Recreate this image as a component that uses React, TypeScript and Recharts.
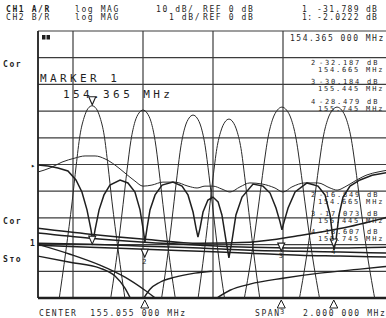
import React from 'react';
import { LineChart, Line, XAxis, YAxis, CartesianGrid, ReferenceDot, ReferenceLine } from 'recharts';

// Sweep: CENTER 155.055 MHz, SPAN 2 MHz
const START_MHZ = 154.055;
const STOP_MHZ = 156.055;
const freqGrid = [154.055, 154.255, 154.455, 154.655, 154.855, 155.055, 155.255, 155.455, 155.655, 155.855, 156.055];
const ch1Grid = [-100, -90, -80, -70, -60, -50, -40, -30, -20, -10, 0];

// CH1 (A/R, 10 dB/div) channel passbands
const lobe1F = [154.170, 154.215, 154.250, 154.273, 154.295, 154.318, 154.341, 154.364, 154.387, 154.410, 154.433, 154.455, 154.478, 154.513, 154.558];
const lobe1Db = [-103, -82, -64, -50.5, -39, -32.5, -29, -28, -29, -32.5, -39, -50.5, -64, -82, -103];
const lobe2F = [154.461, 154.506, 154.541, 154.564, 154.586, 154.609, 154.632, 154.655, 154.678, 154.701, 154.724, 154.746, 154.769, 154.804, 154.849];
const lobe2Db = [-104, -84, -65, -52, -41, -34, -30.7, -29.6, -30.7, -34, -41, -52, -65, -84, -104];
const lobe3F = [154.747, 154.792, 154.827, 154.850, 154.872, 154.895, 154.918, 154.941, 154.964, 154.987, 155.010, 155.032, 155.055, 155.090, 155.135];
const lobe3Db = [-106, -86, -67, -54, -43, -36, -32.6, -31.5, -32.6, -36, -43, -54, -67, -86, -106];
const lobe4F = [154.952, 154.997, 155.032, 155.055, 155.077, 155.100, 155.123, 155.146, 155.169, 155.192, 155.215, 155.237, 155.260, 155.295, 155.340];
const lobe4Db = [-108, -87, -68, -55, -44, -37.5, -34.1, -33, -34.1, -37.5, -44, -55, -68, -87, -108];
const lobe5F = [155.226, 155.278, 155.318, 155.344, 155.370, 155.396, 155.423, 155.449, 155.475, 155.502, 155.528, 155.554, 155.580, 155.620, 155.672];
const lobe5Db = [-103, -83, -64, -51, -39.7, -33, -29.6, -28.5, -29.6, -33, -39.7, -51, -64, -83, -103];
const lobe6F = [155.541, 155.593, 155.633, 155.659, 155.685, 155.711, 155.738, 155.764, 155.790, 155.817, 155.843, 155.869, 155.895, 155.935, 155.987];
const lobe6Db = [-103, -83, -64, -51, -39.7, -33, -29.6, -28.5, -29.6, -33, -39.7, -51, -64, -83, -103];

// CH1 scalloped trace with nulls
const scallopF = [154.055, 154.112, 154.169, 154.226, 154.272, 154.306, 154.335, 154.358, 154.369, 154.381, 154.404, 154.432, 154.466, 154.524, 154.569, 154.609, 154.638, 154.655, 154.666, 154.678, 154.695, 154.724, 154.764, 154.826, 154.878, 154.912, 154.941, 154.958, 154.969, 154.981, 154.998, 155.026, 155.055, 155.084, 155.106, 155.129, 155.146, 155.164, 155.186, 155.221, 155.284, 155.341, 155.381, 155.415, 155.438, 155.449, 155.461, 155.484, 155.524, 155.592, 155.655, 155.695, 155.724, 155.741, 155.746, 155.758, 155.775, 155.798, 155.838, 155.895, 155.964, 156.055];
const scallopDb = [-50.2, -50.6, -51.3, -52.4, -55.8, -60.3, -67.0, -74.5, -79.0, -74.5, -67.0, -61.4, -57.7, -55.8, -56.9, -60.3, -67.0, -73.8, -79.0, -73.8, -67.0, -61.4, -57.7, -56.6, -58.1, -61.4, -67.8, -73.8, -77.2, -73.8, -67.8, -63.3, -62.2, -64.0, -68.9, -78.3, -85.0, -78.3, -68.9, -62.2, -57.3, -58.1, -60.7, -66.3, -71.5, -74.5, -71.5, -66.3, -60.3, -56.9, -58.1, -61.4, -68.9, -78.3, -82.0, -78.3, -68.9, -62.2, -58.1, -55.8, -54.0, -53.0];

// CH1 thin envelope trace
const envF = [154.055, 154.124, 154.192, 154.266, 154.324, 154.381, 154.438, 154.495, 154.552, 154.609, 154.655, 154.706, 154.769, 154.838, 154.912, 154.964, 155.009, 155.055, 155.106, 155.152, 155.209, 155.266, 155.335, 155.409, 155.455, 155.506, 155.581, 155.655, 155.724, 155.764, 155.809, 155.866, 155.935, 155.998, 156.055];
const envDb = [-52.8, -51.3, -49.1, -47.6, -46.8, -46.8, -47.9, -50.2, -53.2, -56.2, -58.1, -57.7, -56.6, -56.6, -58.1, -58.8, -58.1, -58.1, -59.2, -60.3, -58.4, -56.9, -57.3, -58.8, -60.3, -58.4, -56.9, -56.9, -58.8, -59.6, -58.4, -56.2, -53.9, -52.8, -52.1];

// CH2 (B/R, 1 dB/div) insertion-loss traces
const lossF = [154.055, 154.352, 154.666, 154.981, 155.266, 155.552, 155.781, 156.055];
const loss1Db = [-1.39, -1.61, -1.80, -1.95, -1.91, -1.66, -1.40, -0.97];
const loss2Db = [-1.57, -1.76, -1.91, -2.02, -2.10, -2.13, -2.13, -2.10];
const loss3Db = [-1.95, -1.99, -2.06, -2.13, -2.21, -2.25, -2.28, -2.32];
const loss4Db = [-2.02, -2.10, -2.17, -2.25, -2.32, -2.40, -2.43, -2.47];
const skirt1F = [154.055, 154.238, 154.409, 154.495, 154.552, 154.586];
const skirt1Db = [-2.43, -2.66, -2.88, -3.18, -3.63, -4.05];
const skirt2F = [154.055, 154.238, 154.409, 154.552, 154.666, 154.735];
const skirt2Db = [-1.99, -2.36, -2.77, -3.22, -3.71, -4.05];
const skirt3F = [154.655, 154.695, 154.752, 154.838, 154.952, 155.049];
const skirt3Db = [-4.05, -3.67, -3.41, -3.22, -3.07, -3.00];
const skirt4F = [155.066, 155.152, 155.266, 155.455, 155.666, 155.895, 156.055];
const skirt4Db = [-4.05, -3.71, -3.48, -3.26, -3.07, -2.92, -2.81];

// Markers
const markerF = [154.365, 154.665, 155.445, 155.745];
const markerFText = ['154.365 000 MHz', '154.665 MHz', '155.445 MHz', '155.745 MHz'];
const ch1MarkerText = ['-31.789 dB', '-32.187 dB', '-30.184 dB', '-28.479 dB'];
const ch2MarkerText = ['-2.0222 dB', '-16.849 dB', '-17.073 dB', '-18.607 dB'];
const ch2MarkerDb = [-2.02, -2.51, -2.28, -2.13];
const lobe1PeakDb = -28;

const pts = (fs: number[], vs: number[]) => fs.map((f, i) => ({ f, v: vs[i] }));

const INK = '#1f1f1f';
const FONT = "'DejaVu Sans Mono', monospace";

const T = ({ x, y, children, size = 8, ls = 1.6, bold = false }: any) => (
  <text x={x} y={y} fontSize={size} letterSpacing={ls} fontWeight={bold ? 700 : 400} fill={INK} fontFamily={FONT} style={{ whiteSpace: 'pre' }}>
    {children}
  </text>
);

const downTri = (label?: string) => (p: any) => (
  <g>
    <path d={`M${p.cx - 3.5},${p.cy - 9} L${p.cx + 3.5},${p.cy - 9} L${p.cx},${p.cy - 1} Z`} fill="#fff" stroke={INK} strokeWidth={1.1} />
    {label ? (
      <text x={p.cx - 2.5} y={p.cy + 6} fontSize={7} fill={INK} fontFamily={FONT}>{label}</text>
    ) : null}
  </g>
);

const upTri = (p: any) => (
  <path d={`M${p.cx},${p.cy + 2} L${p.cx + 4},${p.cy + 10} L${p.cx - 4},${p.cy + 10} Z`} fill="#fff" stroke={INK} strokeWidth={1} />
);

const upperRows = [[65, 71.5], [84, 90.5], [104, 110.5]];
const lowerRows = [[197, 203.5], [216, 222.5], [234, 240.5]];

export default function App() {
  const lobes = [
    pts(lobe1F, lobe1Db), pts(lobe2F, lobe2Db), pts(lobe3F, lobe3Db),
    pts(lobe4F, lobe4Db), pts(lobe5F, lobe5Db), pts(lobe6F, lobe6Db),
  ];
  const losses = [loss1Db, loss2Db, loss3Db, loss4Db].map((d) => pts(lossF, d));
  const skirts = [pts(skirt1F, skirt1Db), pts(skirt2F, skirt2Db), pts(skirt3F, skirt3Db), pts(skirt4F, skirt4Db)];

  return (
    <div style={{ position: 'absolute', left: 0, top: 0, width: 386, height: 318, overflow: 'hidden', background: '#fff' }}>
      <LineChart width={400} height={318} margin={{ top: 31, right: 12, bottom: 20, left: 38 }}>
        <XAxis dataKey="f" type="number" domain={[START_MHZ, STOP_MHZ]} ticks={freqGrid} allowDataOverflow hide />
        <YAxis yAxisId="ch1" type="number" domain={[-100, 0]} ticks={ch1Grid} allowDataOverflow hide />
        <YAxis yAxisId="ch2" type="number" domain={[-4, 6]} allowDataOverflow hide />
        <CartesianGrid yAxisId="ch1" stroke="#3c3c3c" strokeWidth={1.2} />
        <ReferenceLine yAxisId="ch1" y={-100} stroke={INK} strokeWidth={2.4} />
        <ReferenceLine x={START_MHZ} yAxisId="ch1" stroke={INK} strokeWidth={1.6} />
        {lobes.map((d, i) => (
          <Line key={'lobe' + i} data={d} dataKey="v" yAxisId="ch1" type="monotone" stroke="#2a2a2a" strokeWidth={1} dot={false} isAnimationActive={false} />
        ))}
        <Line data={pts(envF, envDb)} dataKey="v" yAxisId="ch1" type="monotone" stroke="#2a2a2a" strokeWidth={1} dot={false} isAnimationActive={false} />
        <Line data={pts(scallopF, scallopDb)} dataKey="v" yAxisId="ch1" type="linear" stroke={INK} strokeWidth={1.5} dot={false} isAnimationActive={false} />
        {losses.map((d, i) => (
          <Line key={'loss' + i} data={d} dataKey="v" yAxisId="ch2" type="monotone" stroke={INK} strokeWidth={1.5} dot={false} isAnimationActive={false} />
        ))}
        {skirts.map((d, i) => (
          <Line key={'skirt' + i} data={d} dataKey="v" yAxisId="ch2" type="monotone" stroke={INK} strokeWidth={1.4} dot={false} isAnimationActive={false} />
        ))}
        <ReferenceDot x={markerF[0]} y={lobe1PeakDb} yAxisId="ch1" ifOverflow="visible" shape={downTri()} />
        {markerF.map((f, i) => (
          <ReferenceDot key={'m2' + i} x={f} y={ch2MarkerDb[i]} yAxisId="ch2" ifOverflow="visible" shape={downTri(i === 0 ? undefined : String(i + 1))} />
        ))}
        {markerF.slice(1).map((f, i) => (
          <ReferenceDot key={'mb' + i} x={f} y={-4} yAxisId="ch2" ifOverflow="visible" shape={upTri} />
        ))}
      </LineChart>
      <svg width={386} height={318} style={{ position: 'absolute', left: 0, top: 0, pointerEvents: 'none' }}>
        <T x={6} y={12} bold>CH1 A/R</T>
        <T x={75} y={12}>log MAG</T>
        <T x={156} y={12}>10 dB/</T>
        <T x={203} y={12}>REF 0 dB</T>
        <T x={302} y={12}>1</T>
        <T x={317} y={12} ls={1.3}>{ch1MarkerText[0]}</T>
        <T x={6} y={20}>CH2 B/R</T>
        <T x={75} y={20}>log MAG</T>
        <T x={169} y={20}>1 dB/</T>
        <T x={203} y={20}>REF 0 dB</T>
        <T x={302} y={20} ls={0.5}>1:</T>
        <T x={317} y={20} ls={1.3}>{ch2MarkerText[0]}</T>

        <rect x={42} y={35} width={3.5} height={4.5} fill={INK} />
        <rect x={46.5} y={35} width={3.5} height={4.5} fill={INK} />
        <T x={290} y={41} ls={1.5}>{markerFText[0]}</T>

        <T x={40} y={82} size={11} ls={3.4}>MARKER 1</T>
        <T x={63} y={98} size={11} ls={3.4}>154.365 MHz</T>

        {[1, 2, 3].map((i) => (
          <g key={'ur' + i}>
            <T x={311} y={upperRows[i - 1][0]} size={7} ls={1.8}>{String(i + 1)}</T>
            <T x={319} y={upperRows[i - 1][0]} size={7} ls={1.8}>{ch1MarkerText[i]}</T>
            <T x={318} y={upperRows[i - 1][1]} size={7} ls={1.8}>{markerFText[i]}</T>
          </g>
        ))}
        {[1, 2, 3].map((i) => (
          <g key={'lr' + i}>
            <T x={311} y={lowerRows[i - 1][0]} size={7} ls={1.8}>{String(i + 1)}</T>
            <T x={319} y={lowerRows[i - 1][0]} size={7} ls={1.8}>{ch2MarkerText[i]}</T>
            <T x={318} y={lowerRows[i - 1][1]} size={7} ls={1.8}>{markerFText[i]}</T>
          </g>
        ))}

        <T x={3} y={67} bold>Cor</T>
        <T x={3} y={224} bold>Cor</T>
        <T x={3} y={262} bold>Sто</T>
        <T x={30} y={246} bold>1</T>
        <T x={31} y={168} size={7} ls={0}>▸</T>

        <T x={39} y={316}>CENTER  155.055 000 MHz</T>
        <T x={255} y={316}>SPAN</T>
        <T x={280} y={314} size={7} ls={0}>3</T>
        <T x={303} y={316}>2.000 000 MHz</T>
      </svg>
    </div>
  );
}
